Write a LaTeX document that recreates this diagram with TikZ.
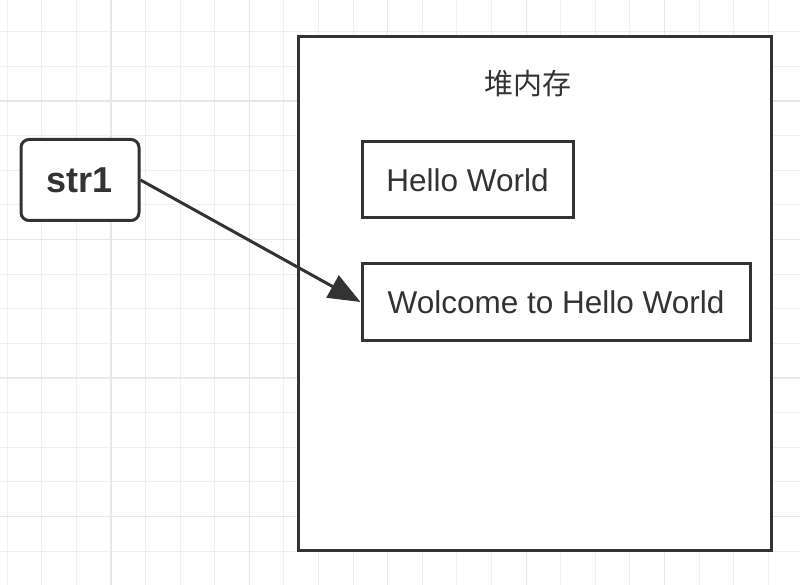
\documentclass[tikz,border=0pt]{standalone}
\usepackage{fontspec}
\setmainfont{Liberation Sans}
\newfontfamily\cjkfont{Noto Sans CJK SC}
\usetikzlibrary{arrows.meta}
\definecolor{ink}{HTML}{333333}
\definecolor{minorgrid}{HTML}{EFEFEF}
\definecolor{majorgrid}{HTML}{E7E7E7}

\begin{document}
\begin{tikzpicture}[x=1pt, y=-1pt,
    box/.style={draw=ink, line width=3pt, inner sep=0pt, text=ink, font=\fontsize{31.5}{36}\selectfont},
    varbox/.style={box, rounded corners=8pt, font=\fontsize{36}{42}\selectfont\bfseries},
    ptr/.style={draw=ink, line width=3pt, -{Triangle[length=32pt,width=25pt]}}]
    \useasboundingbox (0,0) rectangle (800,585);
    % background grid
    \foreach \i in {0,...,23}
        \draw[minorgrid, line width=1pt] (7+34.6*\i,0) -- (7+34.6*\i,585);
    \foreach \i in {0,...,16}
        \draw[minorgrid, line width=1pt] (0,32+34.6*\i) -- (800,32+34.6*\i);
    \foreach \i in {0,...,5}
        \draw[majorgrid, line width=1.2pt] (111+138.4*\i,0) -- (111+138.4*\i,585);
    \foreach \i in {0,...,3}
        \draw[majorgrid, line width=1.2pt] (0,101+138.4*\i) -- (800,101+138.4*\i);

    \node[box, fill=white, minimum width=473pt, minimum height=513pt] (heap) at (534.5,293.5) {};
    \node[text=ink, font=\cjkfont\fontsize{29}{34}\selectfont] (heaplabel) at (528,84) {堆内存};
    \node[box, minimum width=211pt, minimum height=76pt] (hello) at (467.5,180) {Hello World};
    \node[box, minimum width=388pt, minimum height=76pt] (welcome) at (556,302) {Wolcome to Hello World};
    \node[varbox, fill=white, minimum width=118pt, minimum height=81pt] (str1) at (80,180) {str1};

    \draw[ptr] (str1.east) -- (welcome.west);
\end{tikzpicture}
\end{document}
